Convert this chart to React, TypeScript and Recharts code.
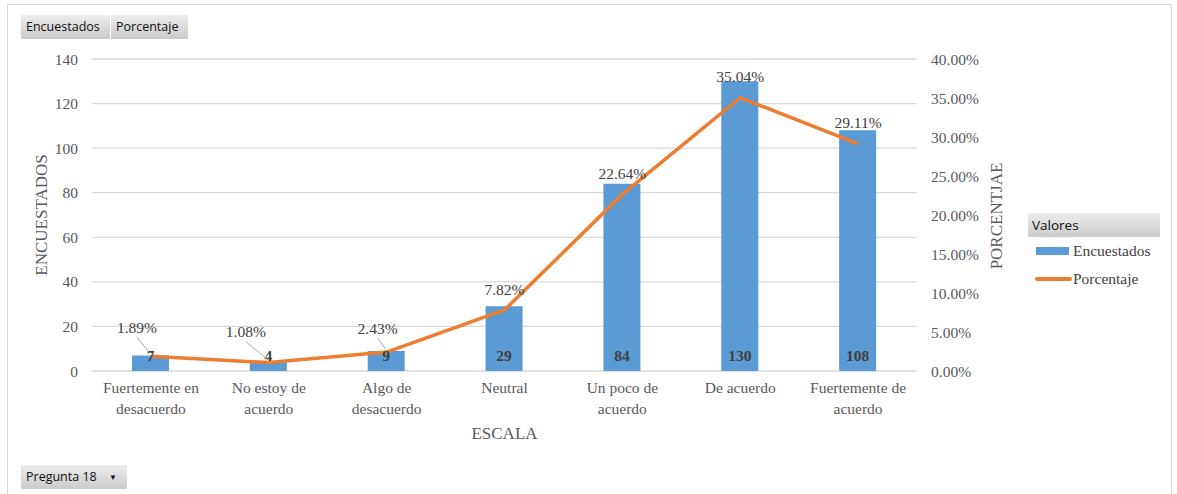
import {
  Bar,
  CartesianGrid,
  ComposedChart,
  LabelList,
  Line,
  XAxis,
  YAxis,
} from "recharts";

// Pregunta 18: respondents per scale step and their share of the total
const categories = [
  "Fuertemente en\ndesacuerdo",
  "No estoy de\nacuerdo",
  "Algo de\ndesacuerdo",
  "Neutral",
  "Un poco de\nacuerdo",
  "De acuerdo",
  "Fuertemente de\nacuerdo",
];
const encuestados = [7, 4, 9, 29, 84, 130, 108];
const porcentaje = [1.89, 1.08, 2.43, 7.82, 22.64, 35.04, 29.11];
const leftTicks = [0, 20, 40, 60, 80, 100, 120, 140];
const rightTicks = [0, 5, 10, 15, 20, 25, 30, 35, 40];

const data = categories.map((name, i) => ({
  name,
  encuestados: encuestados[i],
  porcentaje: porcentaje[i],
}));

const SERIF = '"Liberation Serif", "Times New Roman", serif';
const SANS = '"Open Sans", "Noto Sans", sans-serif';
const BLUE = "#5B9BD5";
const ORANGE = "#ED7D31";
const AXIS_TEXT = "#595959";
const LABEL_TEXT = "#404040";

// small points crowd the bars, so their labels are pulled aside with a leader line
const pctLabelShift: Record<number, { dx: number; dy: number }> = {
  0: { dx: -14, dy: -29 },
  1: { dx: -23, dy: -31 },
  2: { dx: -9, dy: -24 },
};

function CategoryTick(props: any) {
  const { x, y, payload } = props;
  const lines = String(payload.value).split("\n");
  return (
    <text
      x={x}
      y={y}
      textAnchor="middle"
      fontFamily={SERIF}
      fontSize={15.5}
      fill={AXIS_TEXT}
    >
      {lines.map((line, i) => (
        <tspan key={i} x={x} y={y + 16 + i * 21} dominantBaseline="central">
          {line}
        </tspan>
      ))}
    </text>
  );
}

function CountLabel(props: any) {
  const { x, y, width, height, value } = props;
  return (
    <text
      x={x + width / 2}
      y={y + height - 16}
      textAnchor="middle"
      dominantBaseline="central"
      fontFamily={SERIF}
      fontSize={15.5}
      fontWeight="bold"
      fill={LABEL_TEXT}
    >
      {value}
    </text>
  );
}

function PctLabel(props: any) {
  const { x, y, value, index } = props;
  const shift = pctLabelShift[index];
  const dx = shift ? shift.dx : 0;
  const dy = shift ? shift.dy : -21;
  return (
    <g>
      {shift && (
        <line
          x1={x + dx}
          y1={y + dy + 10}
          x2={x - 1}
          y2={y - 3}
          stroke="#a6a6a6"
          strokeWidth={1}
        />
      )}
      <text
        x={x + dx}
        y={y + dy}
        textAnchor="middle"
        dominantBaseline="central"
        fontFamily={SERIF}
        fontSize={15.5}
        fill={LABEL_TEXT}
      >
        {Number(value).toFixed(2)}%
      </text>
    </g>
  );
}

const buttonStyle: React.CSSProperties = {
  position: "absolute",
  height: 24,
  background: "linear-gradient(#ececec, #cbcbcb)",
  fontFamily: SANS,
  fontSize: 12.5,
  color: "#111",
  lineHeight: "24px",
  boxSizing: "border-box",
  paddingLeft: 5,
  whiteSpace: "nowrap",
};

export default function App() {
  return (
    <div
      style={{
        position: "absolute",
        left: 0,
        top: 0,
        width: 1177,
        height: 494,
        background: "#fff",
        overflow: "hidden",
      }}
    >
      <div
        style={{
          position: "absolute",
          left: 7,
          top: 4,
          width: 1165,
          height: 520,
          border: "1px solid #d9d9d9",
          boxSizing: "border-box",
        }}
      />

      <ComposedChart
        width={1177}
        height={494}
        data={data}
        margin={{ top: 59, right: 180, bottom: 93, left: 32 }}
        style={{ position: "absolute", left: 0, top: 0 }}
      >
        <CartesianGrid
          yAxisId="left"
          vertical={false}
          stroke="#d9d9d9"
          strokeWidth={1.3}
        />
        <XAxis
          dataKey="name"
          height={30}
          axisLine={false}
          tickLine={false}
          tickSize={0}
          tickMargin={0}
          interval={0}
          tick={<CategoryTick />}
        />
        <YAxis
          yAxisId="left"
          width={60}
          domain={[0, 140]}
          ticks={leftTicks}
          axisLine={false}
          tickLine={false}
          tickSize={0}
          tickMargin={14}
          tick={{ fontFamily: SERIF, fontSize: 15.5, fill: AXIS_TEXT }}
        />
        <YAxis
          yAxisId="right"
          orientation="right"
          width={80}
          domain={[0, 40]}
          ticks={rightTicks}
          axisLine={false}
          tickLine={false}
          tickSize={0}
          tickMargin={14}
          tickFormatter={(v) => `${Number(v).toFixed(2)}%`}
          tick={{ fontFamily: SERIF, fontSize: 15.5, fill: AXIS_TEXT, textAnchor: "start" }}
        />
        <Bar
          yAxisId="left"
          dataKey="encuestados"
          fill={BLUE}
          barSize={37}
          isAnimationActive={false}
        >
          <LabelList dataKey="encuestados" content={<CountLabel />} />
        </Bar>
        <Line
          yAxisId="right"
          type="linear"
          dataKey="porcentaje"
          stroke={ORANGE}
          strokeWidth={3.5}
          dot={false}
          activeDot={false}
          isAnimationActive={false}
        >
          <LabelList dataKey="porcentaje" content={<PctLabel />} />
        </Line>
      </ComposedChart>

      {/* axis titles */}
      <svg
        width={1177}
        height={494}
        style={{ position: "absolute", left: 0, top: 0, pointerEvents: "none" }}
      >
        <text
          transform="translate(41,215) rotate(-90)"
          textAnchor="middle"
          dominantBaseline="central"
          fontFamily={SERIF}
          fontSize={17}
          fill={AXIS_TEXT}
        >
          ENCUESTADOS
        </text>
        <text
          transform="translate(996,216) rotate(-90)"
          textAnchor="middle"
          dominantBaseline="central"
          fontFamily={SERIF}
          fontSize={17}
          fill={AXIS_TEXT}
        >
          PORCENTJAE
        </text>
        <text
          x={504.5}
          y={433}
          textAnchor="middle"
          dominantBaseline="central"
          fontFamily={SERIF}
          fontSize={17}
          fill={AXIS_TEXT}
        >
          ESCALA
        </text>
      </svg>

      {/* field buttons */}
      <div style={{ ...buttonStyle, left: 21, top: 15, width: 89 }}>Encuestados</div>
      <div style={{ ...buttonStyle, left: 111, top: 15, width: 77 }}>Porcentaje</div>
      <div style={{ ...buttonStyle, left: 21, top: 465, width: 106 }}>
        Pregunta 18
        <span style={{ position: "absolute", left: 88, top: 0, fontSize: 8 }}>▼</span>
      </div>

      {/* legend */}
      <div style={{ ...buttonStyle, left: 1028, top: 213, width: 132, fontSize: 13.5, paddingLeft: 4 }}>
        Valores
      </div>
      <div
        style={{
          position: "absolute",
          left: 1036,
          top: 247,
          width: 33,
          height: 8,
          background: BLUE,
        }}
      />
      <div
        style={{
          position: "absolute",
          left: 1073,
          top: 241,
          fontFamily: SERIF,
          fontSize: 15.5,
          lineHeight: "20px",
          color: LABEL_TEXT,
        }}
      >
        Encuestados
      </div>
      <div
        style={{
          position: "absolute",
          left: 1035,
          top: 277,
          width: 37,
          height: 3.5,
          background: ORANGE,
          borderRadius: 2,
        }}
      />
      <div
        style={{
          position: "absolute",
          left: 1073,
          top: 269,
          fontFamily: SERIF,
          fontSize: 15.5,
          lineHeight: "20px",
          color: LABEL_TEXT,
        }}
      >
        Porcentaje
      </div>
    </div>
  );
}
